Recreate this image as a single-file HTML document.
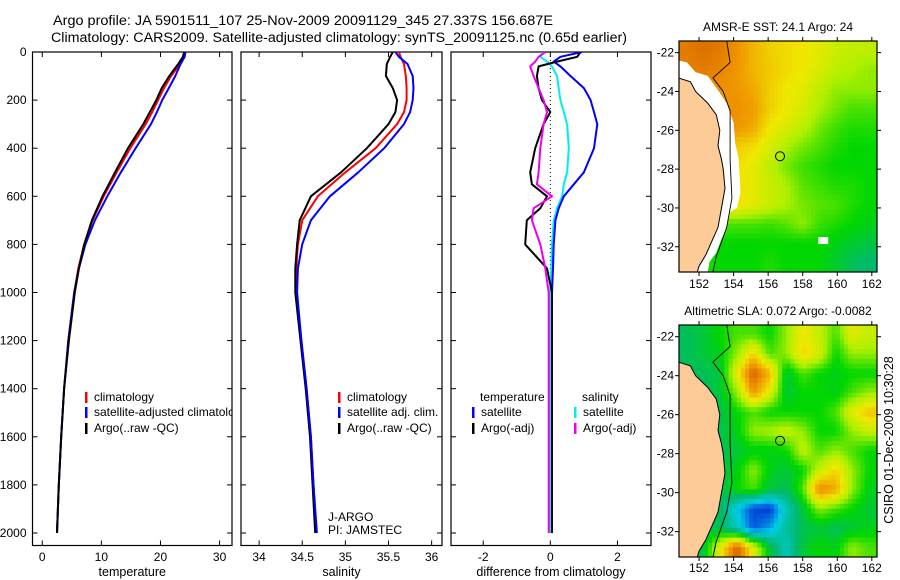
<!DOCTYPE html>
<html><head><meta charset="utf-8"><style>
html,body{margin:0;padding:0;background:#fff}
svg{display:block;font-family:"Liberation Sans",sans-serif}
</style></head><body>
<svg id="fig" width="900" height="580" viewBox="0 0 900 580" xmlns="http://www.w3.org/2000/svg">
<rect width="900" height="580" fill="#fff"/>
<text x="53" y="25" font-size="13.5" textLength="500" lengthAdjust="spacingAndGlyphs">Argo profile: JA 5901511_107 25-Nov-2009 20091129_345 27.337S 156.687E</text>
<text x="51" y="42" font-size="13.5" textLength="576" lengthAdjust="spacingAndGlyphs">Climatology: CARS2009. Satellite-adjusted climatology: synTS_20091125.nc (0.65d earlier)</text>
<g id="profiles"></g>
<g id="maps"></g>
<text transform="translate(893,440) rotate(-90)" text-anchor="middle" font-size="12.5">CSIRO 01-Dec-2009 10:30:28</text>
</svg>
<script>
const NS="http://www.w3.org/2000/svg";
// ---- profile data ----
const depths=[0,20,50,100,150,200,250,300,400,500,600,700,800,900,1000,1200,1400,1600,1800,2000];
const tempArgo=[24.0,23.8,23.0,21.5,20.2,19.3,18.2,17.1,14.5,12.3,10.2,8.4,7.1,6.2,5.5,4.5,3.7,3.2,2.8,2.5];
const tempClim=[24.3,24.0,23.3,21.8,20.6,19.6,18.6,17.5,14.9,12.6,10.4,8.5,7.1,6.1,5.4,4.4,3.7,3.2,2.8,2.5];
const tempSat=[24.2,24.1,23.4,22.5,21.4,20.3,19.4,18.4,15.8,13.3,11.0,8.9,7.3,6.2,5.4,4.4,3.7,3.2,2.8,2.5];
const salArgo=[35.55,35.52,35.48,35.47,35.55,35.6,35.58,35.5,35.25,34.95,34.6,34.47,34.44,34.42,34.42,34.48,34.54,34.59,34.62,34.65];
const salClim=[35.62,35.64,35.68,35.7,35.71,35.71,35.68,35.6,35.35,35.0,34.68,34.5,34.45,34.43,34.43,34.49,34.55,34.6,34.63,34.66];
const salSat=[35.58,35.62,35.72,35.78,35.79,35.78,35.75,35.68,35.45,35.15,34.82,34.6,34.5,34.45,34.44,34.49,34.55,34.6,34.63,34.67];
const diffDepths=[0,20,40,60,100,150,200,250,300,400,500,550,600,650,700,800,900,1000,1200,1500,2000];
const tDiffArgo=[0.9,0.8,0.2,-0.35,-0.4,-0.35,-0.25,0.0,-0.2,-0.45,-0.6,-0.55,-0.1,-0.3,-0.7,-0.75,-0.1,0.05,0.05,0.05,0.05];
const tDiffSat=[0.95,0.3,0.1,0.3,0.6,1.0,1.2,1.3,1.4,1.3,1.0,0.7,0.4,0.25,0.15,0.1,0.08,0.05,0.05,0.05,0.05];
const sDiffArgo=[-0.15,-0.35,-0.45,-0.6,-0.5,-0.35,-0.2,-0.1,-0.2,-0.3,-0.35,-0.4,0.05,-0.5,-0.55,-0.3,-0.15,-0.05,-0.05,-0.05,-0.05];
const sDiffSat=[-0.2,-0.3,-0.1,0.05,0.2,0.25,0.3,0.4,0.5,0.55,0.5,0.4,0.35,0.2,0.1,0.05,0.03,0.0,0.0,0.0,0.0];
const depthTicks=[0,200,400,600,800,1000,1200,1400,1600,1800,2000];
const tempTicks=[0,10,20,30];
const salTicks=[34,34.5,35,35.5,36];
const diffTicks=[-2,0,2];
// ---- map data (normalized colour values, rows north->south) ----
const sstGrid=[
[.9,.92,.9,.86,.8,.76,.74,.72,.7,.66,.65,.64],
[.89,.9,.88,.85,.8,.77,.74,.72,.68,.64,.62,.6],
[.87,.87,.86,.85,.82,.76,.72,.7,.64,.6,.6,.6],
[.86,.86,.86,.86,.84,.76,.72,.68,.62,.58,.55,.55],
[.86,.86,.86,.85,.82,.72,.68,.64,.58,.54,.52,.52],
[.8,.8,.78,.76,.74,.68,.62,.58,.55,.52,.5,.5],
[.76,.76,.76,.74,.7,.64,.58,.54,.52,.5,.5,.5],
[.76,.76,.76,.74,.7,.66,.62,.56,.54,.52,.52,.5],
[.76,.76,.76,.74,.7,.66,.62,.58,.56,.55,.52,.5],
[.55,.55,.55,.55,.55,.54,.56,.6,.54,.52,.5,.48],
[.5,.5,.5,.5,.5,.5,.5,.5,.5,.48,.46,.44],
[.52,.52,.5,.5,.5,.52,.5,.5,.5,.46,.42,.4]];
const slaGrid=[
[.42,.45,.5,.55,.55,.5,.6,.72,.65,.55,.7,.65],
[.42,.45,.48,.6,.75,.55,.6,.75,.68,.5,.6,.6],
[.42,.42,.45,.7,.95,.8,.45,.55,.5,.48,.5,.5],
[.42,.42,.45,.6,.85,.7,.45,.5,.5,.48,.55,.6],
[.42,.42,.43,.5,.55,.5,.5,.5,.5,.55,.7,.78],
[.42,.42,.43,.48,.6,.62,.65,.6,.5,.5,.6,.65],
[.42,.42,.43,.45,.48,.48,.5,.65,.55,.6,.55,.5],
[.42,.42,.43,.48,.6,.48,.45,.5,.65,.75,.6,.5],
[.42,.42,.43,.5,.55,.45,.42,.55,.88,.82,.6,.48],
[.42,.42,.42,.25,.1,.08,.3,.45,.6,.55,.5,.45],
[.42,.42,.42,.3,.12,.2,.35,.42,.45,.42,.45,.48],
[.42,.45,.7,.95,.7,.45,.3,.45,.5,.48,.6,.55]];
const lonTicks=[152,154,156,158,160,162];
const latTicks=[-22,-24,-26,-28,-30,-32];
const argoLon=156.687, argoLat=-27.337;
const coast=[[150.8,-23.3],[151.5,-23.5],[151.8,-24.0],[152.5,-24.6],[153.0,-25.2],[153.2,-26.0],[153.1,-26.8],[153.3,-27.5],[153.4,-28.0],[153.5,-29.0],[153.3,-30.0],[153.1,-31.0],[152.7,-31.8],[152.4,-32.4],[152.0,-33.0],[151.9,-33.3],[150.8,-33.3]];
const whiteZone=[[150.8,-22.4],[151.3,-22.5],[151.8,-23.0],[152.5,-23.2],[153.0,-23.8],[153.6,-24.6],[154.0,-25.6],[154.1,-26.7],[154.3,-27.5],[154.4,-29.2],[154.2,-30.0],[153.8,-30.2],[153.6,-31.0],[153.3,-31.6],[153.0,-32.3],[152.6,-32.8],[152.5,-33.3],[150.8,-33.3]];
const isobath=[[153.6,-21.4],[153.8,-22.5],[152.8,-23.3],[153.4,-24.0],[153.8,-25.0],[153.8,-27.5],[153.9,-29.5],[153.6,-31.0],[153.0,-32.5],[152.8,-33.3]];

function el(tag,attrs,parent){const e=document.createElementNS(NS,tag);for(const k in attrs)e.setAttribute(k,attrs[k]);parent.appendChild(e);return e;}
const prof=document.getElementById('profiles');
const Y0=52, Y1=545.5, yScale=d=>52+d*0.2405;

function panel(name,x0,x1,vmin,vmax,ticks,title,showY){
  const xs=v=>x0+(v-vmin)/(vmax-vmin)*(x1-x0);
  const g=el('g',{},prof);
  
  
  const cid='clip-'+name;
  const cp=el('clipPath',{id:cid},g);el('rect',{x:x0,y:Y0,width:x1-x0,height:Y1-Y0},cp);
  const frame=el('rect',{x:x0,y:Y0,width:x1-x0,height:Y1-Y0,fill:'none',stroke:'#000','stroke-width':1.2},g);
  
  
  ticks.forEach(t=>{const x=xs(t);
    el('line',{x1:x,x2:x,y1:Y0,y2:Y0+5,stroke:'#000'},g);el('line',{x1:x,x2:x,y1:Y1,y2:Y1-5,stroke:'#000'},g);
    const tx=el('text',{x:x,y:561,'text-anchor':'middle','font-size':12},g);tx.textContent=String(t);
    
    });
  depthTicks.forEach(d=>{const y=yScale(d);
    el('line',{x1:x0,x2:x0+5,y1:y,y2:y,stroke:'#000'},g);el('line',{x1:x1,x2:x1-5,y1:y,y2:y,stroke:'#000'},g);
    if(showY){const tx=el('text',{x:x0-6,y:y+4,'text-anchor':'end','font-size':12},g);tx.textContent=String(d);
      
      }});
  const tt=el('text',{x:(x0+x1)/2,y:576,'text-anchor':'middle','font-size':12.5},g);tt.textContent=title;
  
  
  const lg=el('g',{'clip-path':'url(#'+cid+')'},g);
  return {xs,g,lg};
}
function line(p,vals,ds,color,name,w){
  const pts=vals.map((v,i)=>p.xs(v).toFixed(1)+','+yScale(ds[i]).toFixed(1)).join(' ');
  const pl=el('polyline',{points:pts,fill:'none',stroke:color,'stroke-width':w||2,'stroke-linejoin':'round'},p.lg);
  
  
}
function legend(parent,x,y,color,label,name){
  el('rect',{x:x,y:y-9,width:2.5,height:11,fill:color},parent);
  const t=el('text',{x:x+9,y:y,'font-size':12},parent);t.textContent=label;
  
  
}
// Temperature
const pT=panel('temperature',32.5,232,-1.65,32.1,tempTicks,'temperature',true);
line(pT,tempClim,depths,'#f00','temp-climatology-line');
line(pT,tempSat,depths,'#00f','temp-satellite-line');
line(pT,tempArgo,depths,'#000','temp-argo-line');
legend(pT.lg,85,401,'#f00','climatology','legend-climatology');
legend(pT.lg,85,416,'#00f','satellite-adjusted climatology','legend-satellite-adjusted');
legend(pT.lg,85,432,'#000','Argo(..raw -QC)','legend-argo');
// Salinity
const pS=panel('salinity',241,442,33.79,36.12,salTicks,'salinity',false);
line(pS,salClim,depths,'#f00','sal-climatology-line');
line(pS,salArgo,depths,'#000','sal-argo-line');
line(pS,salSat,depths,'#00f','sal-satellite-line');
legend(pS.lg,338,401,'#f00','climatology','legend-sal-climatology');
legend(pS.lg,338,416,'#00f','satellite adj. clim.','legend-sal-satellite');
legend(pS.lg,338,432,'#000','Argo(..raw -QC)','legend-sal-argo');
const ja=el('text',{x:328,y:521,'font-size':12},pS.g);ja.textContent='J-ARGO';


const pi=el('text',{x:328,y:534,'font-size':12},pS.g);pi.textContent='PI: JAMSTEC';


// Difference
const pD=panel('difference',451,651,-2.96,3.0,diffTicks,'difference from climatology',false);
el('line',{x1:pD.xs(0),x2:pD.xs(0),y1:Y0,y2:yScale(1000),stroke:'#000','stroke-dasharray':'1,3'},pD.lg);
line(pD,sDiffSat,diffDepths,'#0ee','sal-diff-satellite-line');
line(pD,tDiffSat,diffDepths,'#00f','temp-diff-satellite-line');
line(pD,tDiffArgo,diffDepths,'#000','temp-diff-argo-line');
line(pD,sDiffArgo,diffDepths,'#e0e','sal-diff-argo-line');
const lt=el('text',{x:480,y:401,'font-size':12},pD.lg);lt.textContent='temperature';


const ls=el('text',{x:582,y:401,'font-size':12},pD.lg);ls.textContent='salinity';


legend(pD.lg,472,416,'#00f','satellite','legend-diff-temp-satellite');
legend(pD.lg,472,432,'#000','Argo(-adj)','legend-diff-temp-argo');
legend(pD.lg,574,416,'#0ee','satellite','legend-diff-sal-satellite');
legend(pD.lg,574,432,'#e0e','Argo(-adj)','legend-diff-sal-argo');

// ---- maps ----
const stops=[[0,[0,0,140]],[.1,[0,70,220]],[.25,[0,205,230]],[.4,[0,185,110]],[.5,[0,215,0]],[.62,[175,240,0]],[.72,[240,232,0]],[.85,[240,150,0]],[1,[200,70,0]]];
function cmap(v){for(let i=1;i<stops.length;i++){if(v<=stops[i][0]){const a=stops[i-1],b=stops[i],f=(v-a[0])/(b[0]-a[0]);
  const c=a[1].map((x,k)=>Math.round(x+(b[1][k]-x)*f));return 'rgb('+c.join(',')+')';}}return 'rgb(200,70,0)';}
function sample(grid,fr,fc){ // bilinear at fractional cell-center coords
  const nr=grid.length,nc=grid[0].length;
  fr=Math.max(0,Math.min(nr-1,fr));fc=Math.max(0,Math.min(nc-1,fc));
  const r0=Math.floor(fr),c0=Math.floor(fc),r1=Math.min(nr-1,r0+1),c1=Math.min(nc-1,c0+1),a=fr-r0,b=fc-c0;
  return grid[r0][c0]*(1-a)*(1-b)+grid[r0][c1]*(1-a)*b+grid[r1][c0]*a*(1-b)+grid[r1][c1]*a*b;
}
const mapsG=document.getElementById('maps');
function drawMap(name,x0,x1,y0,y1,grid,title,titleY,labelY,white){
  const lonMin=150.84,lonMax=162.3,latMax=-21.4,latMin=-33.3;
  const lx=lo=>x0+(lo-lonMin)/(lonMax-lonMin)*(x1-x0);
  const ly=la=>y0+(latMax-la)/(latMax-latMin)*(y1-y0);
  const g=el('g',{},mapsG);
  
  
  const cid='clip-'+name;const cp=el('clipPath',{id:cid},g);el('rect',{x:x0,y:y0,width:x1-x0,height:y1-y0},cp);
  const c=el('g',{'clip-path':'url(#'+cid+')'},g);
  const nr=grid.length,nc=grid[0].length,S=4,cw=(x1-x0)/(nc*S),ch=(y1-y0)/(nr*S);
  for(let r=0;r<nr*S;r++)for(let k=0;k<nc*S;k++){
    const v=sample(grid,(r+0.5)/S-0.5,(k+0.5)/S-0.5);
    const cell=el('rect',{x:(x0+k*cw).toFixed(2),y:(y0+r*ch).toFixed(2),width:(cw+0.5).toFixed(2),height:(ch+0.5).toFixed(2),fill:cmap(v)},c);
    
    
  }
  const poly=pts=>pts.map(p=>lx(p[0]).toFixed(1)+','+ly(p[1]).toFixed(1)).join(' ');
  if(white){el('polygon',{points:poly(whiteZone),fill:'#fff'},c);
    el('rect',{x:lx(158.9),y:ly(-31.5),width:10,height:7,fill:'#fff'},c);}
  const land=el('polygon',{points:poly(coast),fill:'#fdcb98',stroke:'#000','stroke-width':1},c);
  
  
  el('polyline',{points:poly(isobath),fill:'none',stroke:'#000','stroke-width':0.9},c);
  const circ=el('circle',{cx:lx(argoLon),cy:ly(argoLat),r:4.5,fill:'none',stroke:'#000','stroke-width':1},c);
  
  
  el('rect',{x:x0,y:y0,width:x1-x0,height:y1-y0,fill:'none',stroke:'#000','stroke-width':1.2},g);
  lonTicks.forEach(lo=>{const x=lx(lo);el('line',{x1:x,x2:x,y1:y0,y2:y0-4,stroke:'#000'},g);el('line',{x1:x,x2:x,y1:y1,y2:y1+4,stroke:'#000'},g);
    const t=el('text',{x:x,y:labelY,'text-anchor':'middle','font-size':12},g);t.textContent=String(lo);
    
    });
  latTicks.forEach(la=>{const y=ly(la);el('line',{x1:x0,x2:x0-4,y1:y,y2:y,stroke:'#000'},g);el('line',{x1:x1,x2:x1+4,y1:y,y2:y,stroke:'#000'},g);
    const t=el('text',{x:x0-5,y:y+4,'text-anchor':'end','font-size':12},g);t.textContent=String(la);
    
    });
  const tt=el('text',{x:(x0+x1)/2,y:titleY,'text-anchor':'middle','font-size':12},g);tt.textContent=title;
  
  
}
drawMap('sst',679,877,41,272,sstGrid,'AMSR-E SST: 24.1 Argo: 24',31,288,true);
drawMap('sla',679,877,325,557,slaGrid,'Altimetric SLA: 0.072 Argo: -0.0082',315,572,false);
</script>
</body></html>
